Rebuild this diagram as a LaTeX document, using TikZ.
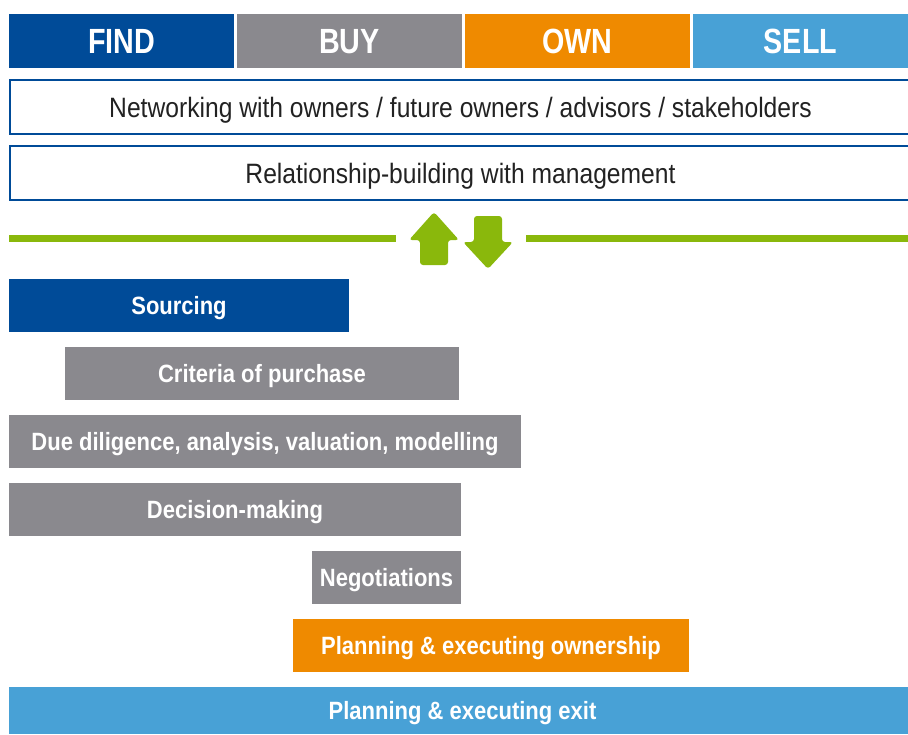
\documentclass[tikz,border=0pt]{standalone}
\usepackage{fontspec}
\setmainfont{Liberation Sans}[FakeStretch=0.88]
\newfontfamily\phasefont{Liberation Sans}[FakeStretch=0.82]
\usetikzlibrary{positioning}

\definecolor{findblue}{HTML}{004B98}
\definecolor{buygray}{HTML}{8A898E}
\definecolor{ownorange}{HTML}{EF8A00}
\definecolor{sellblue}{HTML}{48A1D6}
\definecolor{arrowgreen}{HTML}{8AB80C}
\definecolor{textgray}{HTML}{222222}

\begin{document}
\begin{tikzpicture}[x = 1pt, y = -1pt, node distance = 3pt,
	every node/.style = {inner sep = 0pt, outer sep = 0pt},
	phase/.style = {fill = #1, text = white, minimum width = 225pt, minimum height = 54pt, text height = 25pt, text depth = 0pt, font = \phasefont\bfseries\fontsize{35}{35}\selectfont},
	band/.style = {draw = findblue, line width = 2pt, fill = white, text = textgray, minimum width = 901pt, minimum height = 54pt, text height = 20pt, text depth = 0pt, font = \fontsize{28}{28}\selectfont},
	task/.style = {fill = #1, text = white, minimum height = 53pt, text height = 18pt, text depth = 0pt, anchor = north west, font = \bfseries\fontsize{25}{25}\selectfont},
	greenline/.style = {draw = arrowgreen, line width = 7pt},
	swap/.style = {fill = arrowgreen, rounded corners = 3pt}]

\useasboundingbox (0,0) rectangle (908,734);

% phases
\node[phase = findblue, anchor = north west]		(find)	at (9,14)			{FIND};
\node[phase = buygray]							(buy)		[right = of find]	{BUY};
\node[phase = ownorange]						(own)		[right = of buy]	{OWN};
\node[phase = sellblue, minimum width = 215pt]	(sell)	[right = of own]	{SELL};

% ongoing activities
\node[band]		(network)		at (460.5,107)	{Networking with owners / future owners / advisors / stakeholders};
\node[band]		(relation)	at (460.5,173)	{Relationship-building with management};

% divider
\coordinate (gla) at (9,238.5);
\coordinate (glb) at (396,238.5);
\coordinate (glc) at (526,238.5);
\coordinate (gld) at (908,238.5);
\draw[greenline] (gla) -- (glb);
\draw[greenline] (glc) -- (gld);
\fill[swap] (434,212) -- (459,240) -- (448,240) -- (448,265) -- (420,265) -- (420,240) -- (409,240) -- cycle;
\fill[swap] (488,269) -- (513,242) -- (502,242) -- (502,216) -- (474,216) -- (474,242) -- (463,242) -- cycle;

% steps
\node[task = findblue, minimum width = 340pt]		(sourcing)	at (9,279)		{Sourcing};
\node[task = buygray, minimum width = 394pt]		(criteria)	at (65,347)		{Criteria of purchase};
\node[task = buygray, minimum width = 512pt]		(diligence)	at (9,415)		{Due diligence, analysis, valuation, modelling};
\node[task = buygray, minimum width = 452pt]		(decision)	at (9,483)		{Decision-making};
\node[task = buygray, minimum width = 149pt]		(negotiate)	at (312,551)	{Negotiations};
\node[task = ownorange, minimum width = 396pt]	(ownership)	at (293,619)	{Planning \& executing ownership};
\node[task = sellblue, minimum width = 899pt, minimum height = 47pt]	(exit)	at (9,687)	{\hspace{8pt}Planning \& executing exit};

\end{tikzpicture}
\end{document}
